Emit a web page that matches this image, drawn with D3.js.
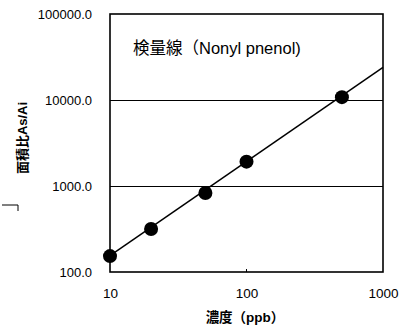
<!DOCTYPE html>
<html><head><meta charset="utf-8">
<script src="https://cdn.jsdelivr.net/npm/d3@7"></script>
<style>body{margin:0;background:#fff}svg{display:block}</style>
</head><body>
<script>
const concentrations = [10, 20, 50, 100, 500];
const areaRatios = [153, 316, 830, 1920, 10800];
const fitLine = [[10, 155], [1000, 24000]];
const xTicks = [10, 100, 1000];
const yTicks = [100, 1000, 10000, 100000];
const titleText = "検量線（Nonyl pnenol)";
const xTitle = "濃度（ppb）";
const yTitle = "面積比As/Ai";

const W = 408, H = 325;
const m = {l: 110, r: 383, t: 14, b: 272};
const svg = d3.select("body").append("svg").attr("width", W).attr("height", H);
const x = d3.scaleLog().domain([10, 1000]).range([m.l, m.r]);
const y = d3.scaleLog().domain([100, 100000]).range([m.b, m.t]);
const font = "'Liberation Sans', Arial, sans-serif";
const cjk = "'Liberation Sans', 'Noto Sans CJK JP', sans-serif";

// grid lines
svg.append("g").selectAll("line").data([1000, 10000]).join("line")
  .attr("x1", m.l).attr("x2", m.r).attr("y1", d => y(d)).attr("y2", d => y(d))
  .attr("stroke", "#000").attr("stroke-width", 1).attr("shape-rendering", "crispEdges");

// axes (labels only)
const yAxis = d3.axisLeft(y).tickValues(yTicks).tickFormat(d3.format(".1f")).tickSize(0).tickPadding(18);
svg.append("g").attr("transform", `translate(${m.l},0)`).call(yAxis)
  .call(g => g.select(".domain").remove())
  .selectAll("text").attr("font-family", font).attr("font-size", 13).attr("fill", "#000").attr("dy", "0.35em");
const xAxis = d3.axisBottom(x).tickValues(xTicks).tickFormat(d3.format("d")).tickSize(0).tickPadding(16);
svg.append("g").attr("transform", `translate(0,${m.b})`).call(xAxis)
  .call(g => g.select(".domain").remove())
  .selectAll("text").attr("font-family", font).attr("font-size", 13.5).attr("fill", "#000");

// small inner tick at 100
svg.append("line").attr("x1", x(100)).attr("x2", x(100)).attr("y1", m.b).attr("y2", m.b - 3).attr("stroke", "#000");

// frame
svg.append("rect").attr("x", m.l).attr("y", m.t).attr("width", m.r - m.l).attr("height", m.b - m.t)
  .attr("fill", "none").attr("stroke", "#000").attr("stroke-width", 1.6);

// fit line
const line = d3.line().x(d => x(d[0])).y(d => y(d[1]));
svg.append("path").datum(fitLine).attr("d", line).attr("stroke", "#000").attr("stroke-width", 1.5).attr("fill", "none");

// points
svg.append("g").selectAll("circle").data(concentrations.map((c, i) => [c, areaRatios[i]])).join("circle")
  .attr("cx", d => x(d[0])).attr("cy", d => y(d[1])).attr("r", 7).attr("fill", "#000");

// title
svg.append("text").attr("x", 133).attr("y", 54).attr("font-family", cjk).attr("font-size", 16.5)
  .attr("fill", "#000").text(titleText);

// x title
svg.append("text").attr("x", 245).attr("y", 322).attr("text-anchor", "middle").attr("font-family", cjk)
  .attr("font-size", 13.5).attr("font-weight", "bold").attr("fill", "#000").text(xTitle);

// y title
svg.append("text").attr("transform", "translate(27,138) rotate(-90)").attr("text-anchor", "middle")
  .attr("font-family", cjk).attr("font-size", 13).attr("font-weight", "bold").attr("fill", "#000").text(yTitle);

// small bracket mark
svg.append("path").attr("d", "M2,205 H18 V211").attr("stroke", "#000").attr("fill", "none").attr("stroke-width", 1);
</script>
</body></html>
